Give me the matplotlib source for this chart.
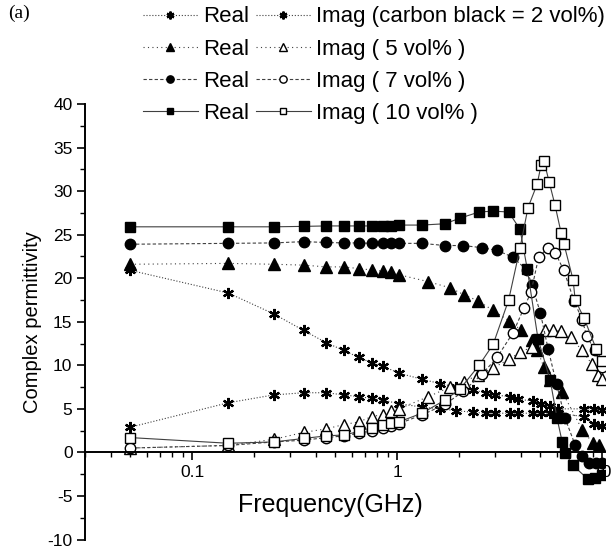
import matplotlib
matplotlib.use('Agg')
from matplotlib import pyplot as plt
from matplotlib.ticker import MultipleLocator, FixedLocator, FixedFormatter, LogLocator, NullFormatter
import matplotlib.transforms as mtransforms

plt.rcParams['font.family'] = ['Liberation Sans', 'DejaVu Sans']
plt.rcParams['axes.unicode_minus'] = False

# carbon black = 2 vol%
f2 = [0.05, 0.15, 0.25, 0.35, 0.45, 0.55, 0.65, 0.75, 0.85, 1.02, 1.32, 1.62, 1.94,
      2.35, 2.7, 3.0, 3.55, 3.9, 4.6, 5.05, 5.6, 6.1, 8.2, 9.1, 10.0]
real2 = [20.9, 18.3, 15.9, 14.0, 12.6, 11.7, 10.9, 10.3, 9.9, 9.1, 8.4, 7.9, 7.5,
         7.2, 6.8, 6.6, 6.4, 6.1, 5.9, 5.6, 5.3, 5.0, 5.0, 5.0, 4.9]
imag2 = [2.9, 5.7, 6.6, 6.85, 6.85, 6.6, 6.4, 6.2, 6.0, 5.6, 5.2, 5.0, 4.8,
         4.6, 4.5, 4.5, 4.5, 4.5, 4.5, 4.5, 4.5, 4.5, 4.1, 3.3, 3.0]

# 5 vol%
f5_real = [0.05, 0.15, 0.25, 0.35, 0.45, 0.55, 0.65, 0.75, 0.85, 0.93, 1.02, 1.42, 1.81,
           2.12, 2.48, 2.94, 3.52, 4.0, 4.55, 4.82, 5.2, 5.6, 6.4, 8.0, 9.0, 9.7]
real5 = [21.6, 21.7, 21.6, 21.5, 21.3, 21.3, 21.1, 20.95, 20.8, 20.7, 20.4, 19.6, 18.9,
         18.1, 17.4, 16.3, 15.1, 14.1, 12.9, 11.8, 9.8, 8.3, 6.9, 2.6, 1.1, 0.9]
f5_imag = [0.05, 0.15, 0.25, 0.35, 0.45, 0.55, 0.65, 0.75, 0.85, 0.93, 1.02, 1.42, 1.81,
           2.12, 2.48, 2.94, 3.52, 3.98, 4.55, 5.27, 5.77, 6.31, 7.05, 7.98, 8.94, 9.57, 10.0]
imag5 = [0.5, 0.8, 1.5, 2.3, 2.7, 3.2, 3.5, 4.1, 4.35, 4.8, 5.0, 6.4, 7.5,
         8.1, 8.9, 9.7, 10.7, 11.5, 12.1, 14.0, 14.0, 13.9, 13.2, 11.7, 10.1, 8.9, 8.4]

# 7 vol%
f7_real = [0.05, 0.15, 0.25, 0.35, 0.45, 0.55, 0.65, 0.75, 0.85, 0.93, 1.02, 1.32, 1.71,
           2.1, 2.6, 3.07, 3.68, 4.3, 4.55, 5.0, 5.45, 6.0, 6.6, 7.4, 8.0, 8.6, 9.35, 10.0]
real7 = [23.9, 24.0, 24.05, 24.2, 24.1, 24.05, 24.05, 24.0, 24.0, 24.0, 24.0, 24.0, 23.75,
         23.75, 23.5, 23.2, 22.4, 20.9, 19.2, 16.0, 11.9, 7.8, 3.9, 0.8, -0.45, -1.25, -1.25, -1.25]
f7_imag = [0.05, 0.15, 0.25, 0.35, 0.45, 0.55, 0.65, 0.75, 0.85, 0.93, 1.02, 1.32, 1.71,
           2.1, 2.6, 3.07, 3.68, 4.16, 4.5, 4.9, 5.45, 5.9, 6.5, 7.3, 8.0, 8.4, 9.2, 10.0]
imag7 = [0.5, 0.8, 1.2, 1.4, 1.7, 1.9, 2.2, 2.5, 2.8, 3.0, 3.3, 4.3, 5.5,
         7.0, 9.0, 10.9, 13.75, 16.6, 18.4, 22.4, 23.5, 22.95, 20.9, 17.4, 15.2, 13.4, 11.7, 9.8]

# 10 vol%
f10_real = [0.05, 0.15, 0.25, 0.35, 0.45, 0.55, 0.65, 0.75, 0.85, 0.93, 1.02, 1.32, 1.71,
            2.03, 2.51, 2.94, 3.5, 3.98, 4.31, 4.87, 5.58, 6.03, 6.38, 6.6, 7.22, 8.55, 9.24, 10.0]
real10 = [25.9, 25.9, 25.9, 25.95, 26.0, 26.0, 26.0, 26.0, 26.0, 26.0, 26.1, 26.1, 26.25,
          26.9, 27.6, 27.7, 27.6, 25.6, 21.1, 13.0, 8.3, 3.9, 1.25, -0.1, -1.5, -3.1, -2.9, -2.6]
f10_imag = [0.05, 0.15, 0.25, 0.35, 0.45, 0.55, 0.65, 0.75, 0.85, 0.93, 1.02, 1.32, 1.71,
            2.03, 2.51, 2.94, 3.5, 3.98, 4.35, 4.82, 5.04, 5.21, 5.51, 5.89, 6.31, 6.52,
            7.22, 7.39, 8.17, 9.35, 10.0]
imag10 = [1.7, 1.05, 1.2, 1.6, 1.9, 2.0, 2.4, 2.85, 3.2, 3.4, 3.5, 4.5, 6.0,
          7.3, 10.0, 12.4, 17.5, 23.5, 28.1, 30.8, 33.0, 33.4, 31.1, 28.4, 25.2, 23.9,
          19.8, 17.5, 15.4, 11.9, 10.5]

samples = [
    ('(carbon black = 2 vol%)', f2, real2, f2, imag2, (6, 2, 0), 8, ':'),
    ('( 5 vol% )', f5_real, real5, f5_imag, imag5, '^', 8, (0, (1, 3))),
    ('( 7 vol% )', f7_real, real7, f7_imag, imag7, 'o', 7.5, (0, (3, 2))),
    ('( 10 vol% )', f10_real, real10, f10_imag, imag10, 's', 6.5, '-'),
]

fig = plt.figure(figsize=(6.14, 5.48), dpi=100)
ax = fig.add_axes([85 / 614, 8.5 / 548, 520 / 614, 435.5 / 548])

real_handles = []
imag_handles = []
for label, fr, re, fi, im, mk, ms, ls in samples:
    mew = 1.6 if mk == (6, 2, 0) else 1.0
    h1, = ax.plot(fr, re, linestyle=ls, color='0.25', lw=0.8, marker=mk, ms=ms,
                  mfc='k', mec='k', mew=mew)
    h2, = ax.plot(fi, im, linestyle=ls, color='0.25', lw=0.8, marker=mk, ms=ms,
                  mfc='white', mec='k', mew=mew)
    real_handles.append(h1)
    imag_handles.append(h2)

ax.set_xscale('log')
ax.set_xlim(0.03, 10.33)
ax.set_ylim(-10, 40)

for s in ['top', 'right']:
    ax.spines[s].set_visible(False)
ax.spines['bottom'].set_position(('data', 0))
ax.spines['left'].set_linewidth(1.4)
ax.spines['bottom'].set_linewidth(1.4)

ax.yaxis.set_major_locator(MultipleLocator(5))
ax.yaxis.set_minor_locator(MultipleLocator(2.5))
ax.xaxis.set_major_locator(FixedLocator([0.1, 1, 10]))
ax.xaxis.set_major_formatter(FixedFormatter(['0.1', '1', '10']))
ax.xaxis.set_minor_locator(LogLocator(base=10, subs=range(2, 10)))
ax.xaxis.set_minor_formatter(NullFormatter())
ax.tick_params(which='major', direction='out', length=6, width=1.2, labelsize=12.5, pad=3)
ax.tick_params(which='minor', direction='out', length=3.5, width=1.0)

ax.set_ylabel('Complex permittivity', fontsize=14.5, labelpad=4)
trans = mtransforms.blended_transform_factory(ax.transAxes, ax.transData)
ax.text(0.471, -6.0, 'Frequency(GHz)', transform=trans, ha='center', va='center', fontsize=18)

fig.text(8 / 614, 1 - 13 / 548, '(a)', fontsize=14, family=['Liberation Serif', 'DejaVu Serif'],
         va='center', ha='left')

labels = ['Real'] * 4 + ['Imag ' + s[0] for s in samples]
fig.legend(real_handles + imag_handles, labels, ncol=2, loc='upper right',
           bbox_to_anchor=(0.9925, 0.9964), frameon=False, fontsize=16,
           handlelength=2.5, handletextpad=0.22, columnspacing=0.3,
           labelspacing=0.5, markerscale=0.7, borderaxespad=0.1, borderpad=0.1)

fig.savefig('out.png', dpi=100)
